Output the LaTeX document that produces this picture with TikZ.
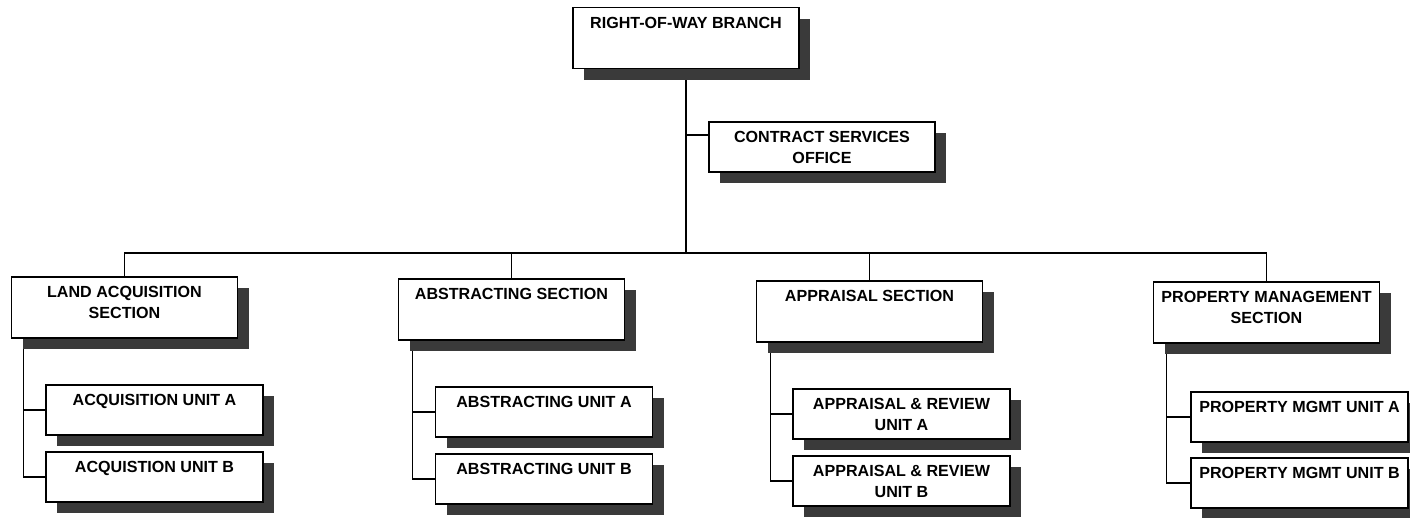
\documentclass[tikz,border=0pt]{standalone}
\usepackage{fontspec}
\setmainfont{Liberation Sans}
\usetikzlibrary{shadows,backgrounds}
\definecolor{shadowgray}{HTML}{3A3A3A}
\begin{document}
\begin{tikzpicture}[x=1pt,y=-1pt,
  box/.style={draw, line width=1.7pt, fill=white, inner sep=0pt,
    general shadow={fill=shadowgray, shadow xshift=11pt, shadow yshift=-11pt}},
  big/.style={box, minimum width=226pt, minimum height=61pt},
  mid/.style={box, minimum width=226pt, minimum height=50pt},
  unit/.style={box, minimum width=217pt, minimum height=50pt},
  lbl/.style={anchor=north, inner sep=0pt, align=center,
    font=\bfseries\fontsize{16.1}{21}\selectfont, yshift=-10pt},
  wire/.style={line width=1.6pt}]
\useasboundingbox (0,0) rectangle (1410,517);
% boxes
\node[big]  (top)   at (686,38)      {};
\node[mid]  (cso)   at (822,147)     {};
\node[big]  (land)  at (124.5,307.5) {};
\node[unit] (acqA)  at (154.5,410)   {};
\node[unit] (acqB)  at (154.5,477)   {};
\node[big]  (abs)   at (511.5,309.5) {};
\node[unit] (absA)  at (544,412)     {};
\node[unit] (absB)  at (544,479)     {};
\node[big]  (app)   at (869.5,311.5) {};
\node[unit] (appA)  at (901.5,414)   {};
\node[unit] (appB)  at (901.5,481)   {};
\node[big]  (prop)  at (1266.5,312.5){};
\node[unit] (propA) at (1299.5,417)  {};
\node[unit] (propB) at (1299.5,483)  {};
% labels
\node[lbl] (topT)   at (top.north)   {RIGHT-OF-WAY BRANCH};
\node[lbl] (csoT)   at (cso.north)   {CONTRACT SERVICES\\OFFICE};
\node[lbl] (landT)  at (land.north)  {LAND ACQUISITION\\SECTION};
\node[lbl] (acqAT)  at (acqA.north)  {ACQUISITION UNIT A};
\node[lbl] (acqBT)  at (acqB.north)  {ACQUISTION UNIT B};
\node[lbl] (absT)   at (abs.north)   {ABSTRACTING SECTION};
\node[lbl] (absAT)  at (absA.north)  {ABSTRACTING UNIT A};
\node[lbl] (absBT)  at (absB.north)  {ABSTRACTING UNIT B};
\node[lbl] (appT)   at (app.north)   {APPRAISAL SECTION};
\node[lbl] (appAT)  at (appA.north)  {APPRAISAL \& REVIEW\\UNIT A};
\node[lbl] (appBT)  at (appB.north)  {APPRAISAL \& REVIEW\\UNIT B};
\node[lbl] (propT)  at (prop.north)  {PROPERTY MANAGEMENT\\SECTION};
\node[lbl] (propAT) at (propA.north) {PROPERTY MGMT UNIT A};
\node[lbl] (propBT) at (propB.north) {PROPERTY MGMT UNIT B};
% connectors
\coordinate (bus) at (686,253);
\coordinate (cj)  at (686,135);
\coordinate (landV) at ([xshift=13pt]land.south west);
\coordinate (absV)  at ([xshift=15pt]abs.south west);
\coordinate (appV)  at ([xshift=15pt]app.south west);
\coordinate (propV) at ([xshift=14pt]prop.south west);
\begin{scope}[on background layer]
\draw[wire] (top.south) -- (bus);
\draw[wire] (cj) -- (cj -| cso.west);
\draw[wire] (land.north) |- (bus) -| (prop.north);
\draw[wire] (abs.north) -- (abs.north |- bus);
\draw[wire] (app.north) -- (app.north |- bus);
\draw[wire] (landV) |- (acqB.west);
\draw[wire] (landV |- acqA.west) -- (acqA.west);
\draw[wire] (absV) |- (absB.west);
\draw[wire] (absV |- absA.west) -- (absA.west);
\draw[wire] (appV) |- (appB.west);
\draw[wire] (appV |- appA.west) -- (appA.west);
\draw[wire] (propV) |- (propB.west);
\draw[wire] (propV |- propA.west) -- (propA.west);
\end{scope}
\end{tikzpicture}
\end{document}
